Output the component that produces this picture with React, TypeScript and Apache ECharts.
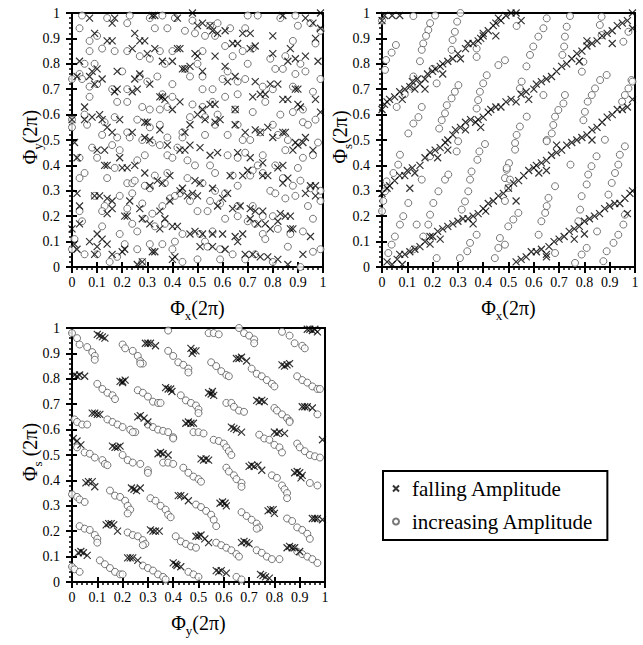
import React, { useEffect, useRef } from 'react';
import * as echarts from 'echarts';

const FONT = 'Liberation Serif, Times New Roman, serif';

const tickLabels = ['0', '0.1', '0.2', '0.3', '0.4', '0.5', '0.6', '0.7', '0.8', '0.9', '1'];
const legendNames = ['falling Amplitude', 'increasing Amplitude'];

// Panel 1: Phi_x vs Phi_y
const panel1Increasing: number[][] = [
  [0.04,0.99],[0.23,0.99],[0.36,0.99],[0.31,0.98],[0.48,0.97],[0.41,0.98],[0.70,0.99],[0.74,0.99],[0.83,0.98],[0.89,0.99],[0.95,0.96],
  [0.03,0.94],[0.22,0.96],[0.33,0.94],[0.38,0.94],[0.45,0.93],[0.49,0.92],[0.53,0.91],[0.57,0.91],[0.63,0.94],[0.69,0.94],[0.90,0.95],
  [0.14,0.98],[0.10,0.91],[0.07,0.89],[0.55,0.95],[0.88,0.89],[0.97,0.88],[0.58,0.96],[0.99,0.93],
  [0.07,0.85],[0.12,0.86],[0.17,0.85],[0.22,0.85],[0.27,0.83],[0.31,0.82],[0.35,0.85],[0.40,0.85],[0.52,0.85],[0.61,0.87],[0.68,0.85],
  [0.79,0.82],[0.85,0.83],[0.91,0.80],[0.93,0.77],[0.89,0.76],[0.81,0.78],[0.84,0.78],[0.70,0.80],[0.50,0.80],[0.64,0.83],[0.72,0.86],
  [0.45,0.78],[0.37,0.80],[0.05,0.80],[0.03,0.76],[0.09,0.80],
  [0.00,0.74],[0.04,0.74],[0.07,0.71],[0.10,0.72],[0.16,0.70],[0.20,0.77],[0.22,0.70],[0.27,0.75],[0.30,0.73],[0.34,0.75],[0.40,0.72],
  [0.47,0.75],[0.52,0.75],[0.52,0.70],[0.56,0.70],[0.62,0.77],[0.66,0.68],[0.69,0.74],[0.76,0.71],[0.80,0.70],[0.88,0.71],[0.96,0.69],
  [0.99,0.74],[0.60,0.74],[0.66,0.73],
  [0.07,0.67],[0.05,0.60],[0.18,0.65],[0.22,0.65],[0.28,0.63],[0.31,0.62],[0.35,0.62],[0.36,0.68],[0.38,0.63],[0.40,0.67],[0.48,0.64],
  [0.52,0.63],[0.56,0.65],[0.61,0.67],[0.65,0.62],[0.72,0.61],[0.77,0.65],[0.83,0.60],[0.88,0.61],[0.92,0.62],[0.92,0.57],[0.97,0.58],
  [0.58,0.60],[0.47,0.59],[0.53,0.59],
  [0.00,0.58],[0.00,0.55],[0.06,0.56],[0.13,0.57],[0.17,0.59],[0.12,0.52],[0.22,0.53],[0.26,0.58],[0.23,0.51],[0.28,0.50],[0.31,0.55],
  [0.35,0.56],[0.44,0.53],[0.44,0.51],[0.53,0.52],[0.57,0.56],[0.62,0.52],[0.66,0.56],[0.68,0.50],[0.71,0.50],[0.75,0.53],[0.80,0.56],
  [0.82,0.52],[0.86,0.50],[0.94,0.56],[0.98,0.49],[0.18,0.51],[0.38,0.51],
  [0.08,0.47],[0.03,0.43],[0.16,0.48],[0.19,0.46],[0.26,0.42],[0.29,0.44],[0.32,0.49],[0.35,0.48],[0.38,0.44],[0.42,0.47],[0.46,0.42],
  [0.49,0.40],[0.55,0.40],[0.57,0.37],[0.62,0.44],[0.66,0.43],[0.69,0.45],[0.74,0.40],[0.76,0.44],[0.81,0.40],[0.85,0.46],[0.90,0.39],
  [0.92,0.43],[0.96,0.44],[0.72,0.38],[0.10,0.43],[0.40,0.43],
  [0.05,0.37],[0.03,0.35],[0.17,0.39],[0.14,0.35],[0.22,0.33],[0.24,0.33],[0.29,0.32],[0.33,0.36],[0.37,0.33],[0.38,0.37],[0.43,0.29],
  [0.46,0.35],[0.52,0.33],[0.57,0.30],[0.61,0.29],[0.64,0.36],[0.66,0.32],[0.71,0.36],[0.76,0.37],[0.79,0.30],[0.84,0.35],[0.81,0.29],
  [0.88,0.32],[0.91,0.34],[0.95,0.31],[0.99,0.30],[0.25,0.34],[0.31,0.31],
  [0.03,0.22],[0.09,0.28],[0.13,0.24],[0.19,0.28],[0.24,0.29],[0.22,0.23],[0.28,0.25],[0.32,0.21],[0.39,0.27],[0.41,0.28],[0.47,0.26],
  [0.50,0.22],[0.54,0.22],[0.55,0.26],[0.59,0.25],[0.66,0.24],[0.72,0.24],[0.76,0.20],[0.80,0.20],[0.85,0.27],[0.89,0.28],[0.94,0.24],
  [0.99,0.26],[0.12,0.22],[0.36,0.24],
  [0.04,0.18],[0.01,0.11],[0.12,0.16],[0.24,0.17],[0.26,0.14],[0.29,0.19],[0.33,0.16],[0.37,0.17],[0.44,0.13],[0.51,0.13],[0.56,0.14],
  [0.61,0.19],[0.66,0.20],[0.70,0.18],[0.73,0.17],[0.76,0.13],[0.82,0.15],[0.87,0.13],[0.92,0.14],[0.96,0.19],[0.19,0.13],[0.41,0.10],
  [0.53,0.10],
  [0.00,0.07],[0.05,0.05],[0.10,0.05],[0.15,0.02],[0.18,0.04],[0.21,0.09],[0.28,0.02],[0.31,0.09],[0.36,0.09],[0.40,0.07],[0.44,0.02],
  [0.50,0.03],[0.54,0.08],[0.59,0.07],[0.64,0.05],[0.69,0.03],[0.73,0.05],[0.77,0.11],[0.80,0.02],[0.86,0.08],[0.91,0.00],[0.96,0.06],
  [0.99,0.07],[0.59,0.03],[0.26,0.07],
];

const panel1Falling: number[][] = [
  [0.07,0.98],[0.32,0.99],[0.33,0.99],[0.48,1.00],[0.84,0.99],[0.93,0.98],[0.99,1.00],[0.09,0.92],[0.16,0.96],[0.17,0.98],[0.25,0.92],
  [0.42,0.98],[0.50,0.95],[0.52,0.96],[0.55,0.95],[0.56,0.93],[0.58,0.92],[0.61,0.93],[0.68,0.92],[0.71,0.92],[0.80,0.91],[0.96,0.96],
  [0.99,0.94],[0.97,0.90],
  [0.14,0.89],[0.16,0.89],[0.24,0.86],[0.27,0.89],[0.29,0.89],[0.30,0.84],[0.33,0.86],[0.40,0.81],[0.42,0.86],[0.43,0.86],[0.49,0.84],
  [0.50,0.83],[0.57,0.83],[0.61,0.79],[0.64,0.88],[0.66,0.88],[0.71,0.86],[0.73,0.87],[0.80,0.84],[0.86,0.81],[0.87,0.86],[0.89,0.82],
  [0.93,0.83],[0.98,0.81],[0.36,0.81],[0.03,0.81],[0.45,0.78],[0.47,0.79],
  [0.02,0.75],[0.08,0.77],[0.10,0.78],[0.18,0.77],[0.25,0.74],[0.27,0.76],[0.31,0.72],[0.52,0.77],[0.62,0.73],[0.65,0.75],[0.73,0.73],
  [0.79,0.72],[0.82,0.72],[0.89,0.70],[0.90,0.70],[0.07,0.75],[0.18,0.70],[0.26,0.70],[0.44,0.78],
  [0.09,0.72],[0.12,0.74],[0.35,0.67],[0.36,0.67],[0.37,0.66],[0.43,0.65],[0.50,0.60],[0.52,0.62],[0.55,0.64],[0.57,0.64],[0.65,0.62],
  [0.72,0.67],[0.75,0.68],[0.77,0.68],[0.84,0.66],[0.86,0.66],[0.90,0.64],[0.91,0.63],[0.99,0.61],[0.05,0.63],[0.97,0.66],[0.40,0.62],
  [0.17,0.69],[0.24,0.69],
  [0.00,0.58],[0.05,0.58],[0.08,0.59],[0.11,0.60],[0.12,0.58],[0.14,0.55],[0.19,0.58],[0.24,0.53],[0.29,0.57],[0.30,0.57],[0.35,0.54],
  [0.47,0.56],[0.53,0.58],[0.57,0.57],[0.59,0.58],[0.65,0.56],[0.69,0.53],[0.73,0.54],[0.75,0.53],[0.78,0.55],[0.80,0.51],[0.84,0.53],
  [0.85,0.53],[0.93,0.51],[0.45,0.53],[0.16,0.53],
  [0.01,0.49],[0.02,0.43],[0.10,0.46],[0.13,0.46],[0.13,0.40],[0.14,0.40],[0.19,0.43],[0.25,0.40],[0.29,0.51],[0.31,0.50],[0.38,0.48],
  [0.43,0.46],[0.45,0.46],[0.47,0.48],[0.51,0.47],[0.55,0.44],[0.58,0.45],[0.66,0.45],[0.71,0.43],[0.76,0.41],[0.82,0.39],[0.84,0.40],
  [0.88,0.46],[0.89,0.49],[0.90,0.48],[0.92,0.49],[0.96,0.46],[0.20,0.39],[0.22,0.39],
  [0.02,0.29],[0.29,0.37],[0.31,0.32],[0.34,0.34],[0.36,0.33],[0.39,0.36],[0.43,0.30],[0.44,0.31],[0.49,0.34],[0.51,0.33],[0.56,0.31],
  [0.63,0.36],[0.68,0.36],[0.70,0.38],[0.76,0.36],[0.78,0.36],[0.84,0.33],[0.86,0.35],[0.93,0.29],[0.95,0.32],[0.97,0.32],[0.48,0.29],
  [0.50,0.28],[0.62,0.29],
  [0.03,0.24],[0.09,0.28],[0.11,0.28],[0.14,0.27],[0.16,0.26],[0.23,0.26],[0.21,0.20],[0.22,0.20],[0.27,0.23],[0.39,0.26],[0.46,0.28],
  [0.60,0.27],[0.58,0.24],[0.64,0.23],[0.67,0.24],[0.71,0.23],[0.73,0.22],[0.76,0.22],[0.83,0.21],[0.85,0.20],[0.87,0.20],[0.97,0.28],
  [0.14,0.21],[0.16,0.23],[0.35,0.22],[0.82,0.18],
  [0.00,0.15],[0.03,0.17],[0.10,0.13],[0.12,0.11],[0.14,0.09],[0.28,0.19],[0.31,0.17],[0.35,0.15],[0.37,0.19],[0.40,0.16],[0.42,0.16],
  [0.47,0.13],[0.49,0.14],[0.52,0.13],[0.56,0.13],[0.60,0.13],[0.65,0.12],[0.68,0.13],[0.71,0.19],[0.74,0.17],[0.77,0.17],[0.79,0.15],
  [0.87,0.15],[0.88,0.15],[0.95,0.12],[0.01,0.09],[0.07,0.10],
  [0.02,0.07],[0.09,0.05],[0.10,0.08],[0.16,0.05],[0.20,0.06],[0.21,0.07],[0.26,0.01],[0.28,0.02],[0.32,0.06],[0.33,0.06],[0.40,0.03],
  [0.41,0.04],[0.51,0.08],[0.56,0.08],[0.61,0.07],[0.66,0.10],[0.69,0.05],[0.72,0.05],[0.75,0.04],[0.78,0.04],[0.82,0.03],[0.86,0.01],
  [0.92,0.05],
];

// Panel 2: Phi_x vs Phi_s
const panel2Increasing: number[][] = [
  [0.0,0.97],[0.21,0.99],
  [0.124,0.988],[0.19,0.96],[0.183,0.933],[0.174,0.91],[0.163,0.88],[0.157,0.855],[0.15,0.81],[0.055,0.874],[0.038,0.844],[0.016,0.815],
  [0.012,0.776],[0.31,1.0],[0.297,0.966],[0.288,0.926],[0.279,0.894],[0.275,0.855],[0.2,0.78],[0.216,0.723],[0.124,0.75],[0.117,0.71],
  [0.09,0.68],[0.058,0.63],[0.157,0.63],[0.144,0.59],[0.124,0.565],[0.104,0.526],[0.302,0.716],[0.288,0.69],[0.275,0.664],[0.256,0.637],
  [0.249,0.605],[0.236,0.578],[0.226,0.545],[0.374,0.86],[0.374,0.827],[0.414,0.755],[0.40,0.723],[0.387,0.69],[0.38,0.657],[0.374,0.624],
  [0.46,0.795],
  [0.651,0.979],[0.743,0.988],[0.868,0.985],[0.532,0.949],[0.638,0.94],[0.618,0.907],[0.598,0.868],[0.585,0.835],[0.571,0.79],[0.552,0.73],
  [0.545,0.703],[0.73,0.946],[0.723,0.907],[0.72,0.868],[0.713,0.835],[0.861,0.953],[0.868,0.913],[0.954,0.887],[0.974,0.926],[0.486,0.814],
  [0.888,0.756],[0.862,0.736],[0.842,0.703],[0.829,0.677],[0.813,0.651],[0.802,0.611],[0.796,0.578],[0.986,0.736],[0.974,0.703],[0.96,0.677],
  [0.949,0.651],[0.723,0.677],[0.717,0.644],[0.697,0.618],[0.684,0.592],[0.677,0.559],[0.671,0.526],[0.572,0.592],[0.545,0.553],[0.532,0.52],
  [0.638,0.677],[0.796,0.808],[0.79,0.769],[0.651,0.50],
  [0.407,0.484],[0.385,0.455],[0.377,0.422],[0.354,0.376],[0.348,0.344],[0.341,0.298],[0.328,0.258],[0.315,0.226],[0.374,0.127],[0.348,0.095],
  [0.337,0.062],[0.308,0.035],[0.493,0.383],[0.486,0.35],[0.223,0.298],[0.203,0.252],[0.19,0.206],[0.183,0.167],[0.163,0.12],[0.216,0.035],
  [0.071,0.442],[0.064,0.403],[0.045,0.37],[0.018,0.337],[0.012,0.298],[0.249,0.344],[0.262,0.364],[0.104,0.252],[0.084,0.2],[0.071,0.167],
  [0.051,0.12],[0.038,0.088],[0.025,0.055],[0.157,0.344],[0.446,0.035],[0.46,0.075],[0.466,0.114],[0.301,0.495],[0.19,0.436],[0.295,0.455],
  [0.137,0.167],[0.124,0.069],[0.0,0.22],[0.005,0.26],
  [0.526,0.488],[0.526,0.462],[0.651,0.495],[0.502,0.409],[0.493,0.39],[0.506,0.344],[0.499,0.311],[0.486,0.26],[0.684,0.318],[0.658,0.272],
  [0.651,0.24],[0.645,0.213],[0.63,0.18],[0.619,0.127],[0.745,0.403],[0.848,0.436],[0.828,0.397],[0.815,0.364],[0.809,0.325],[0.789,0.279],
  [0.783,0.226],[0.776,0.18],[0.809,0.075],[0.789,0.049],[0.881,0.501],[0.96,0.475],[0.94,0.442],[0.934,0.403],[0.921,0.37],[0.908,0.331],
  [0.895,0.285],[0.96,0.206],[0.954,0.167],[0.934,0.127],[0.915,0.095],[0.888,0.062],[0.875,0.023],[0.539,0.213],[0.519,0.187],[0.499,0.16],
  [0.486,0.088],[0.684,0.055],[0.763,0.016],[0.85,0.14],[0.99,0.73],
];

const panel2Falling: number[][] = [
  [0.0,0.97],[0.01,0.99],[0.04,0.99],[0.07,0.99],
  [0.0,0.62],[0.01,0.64],[0.02,0.65],[0.03,0.66],[0.05,0.67],[0.07,0.69],[0.09,0.70],[0.11,0.71],[0.12,0.73],[0.14,0.74],[0.15,0.72],
  [0.17,0.74],[0.18,0.76],[0.20,0.77],[0.21,0.78],[0.23,0.79],[0.24,0.80],[0.26,0.81],[0.28,0.82],[0.30,0.84],[0.31,0.82],[0.33,0.86],
  [0.34,0.88],[0.36,0.88],[0.38,0.89],[0.39,0.90],[0.40,0.92],[0.42,0.93],[0.44,0.95],[0.45,0.96],[0.46,0.98],[0.47,0.97],[0.49,0.99],
  [0.51,1.0],[0.53,1.0],[0.55,0.97],[0.08,0.66],[0.13,0.70],[0.17,0.70],[0.24,0.76],[0.40,0.91],[0.45,0.91],
  [0.0,0.29],[0.02,0.31],[0.03,0.32],[0.05,0.34],[0.07,0.36],[0.09,0.36],[0.10,0.38],[0.12,0.39],[0.13,0.37],[0.15,0.40],[0.17,0.43],
  [0.19,0.45],[0.21,0.46],[0.23,0.47],[0.25,0.49],[0.26,0.50],[0.28,0.52],[0.29,0.54],[0.31,0.55],[0.33,0.57],[0.35,0.58],[0.37,0.57],
  [0.38,0.58],[0.40,0.59],[0.42,0.61],[0.43,0.62],[0.45,0.63],[0.47,0.63],[0.49,0.65],[0.51,0.66],[0.53,0.65],[0.55,0.68],[0.57,0.69],
  [0.60,0.70],[0.61,0.72],[0.63,0.73],[0.65,0.74],[0.67,0.75],[0.69,0.77],[0.71,0.79],[0.73,0.80],[0.75,0.82],[0.77,0.84],[0.79,0.85],
  [0.81,0.87],[0.83,0.88],[0.85,0.89],[0.87,0.91],[0.89,0.92],[0.91,0.93],[0.93,0.95],[0.95,0.96],[0.97,0.97],[0.99,1.0],[0.22,0.43],
  [0.26,0.46],[0.33,0.54],[0.39,0.55],[0.58,0.66],[0.78,0.81],[0.91,0.88],[0.99,0.94],[0.81,0.89],[0.11,0.31],
  [0.02,0.02],[0.04,0.01],[0.06,0.03],[0.08,0.01],[0.07,0.05],[0.09,0.05],[0.11,0.06],[0.13,0.07],[0.15,0.08],[0.17,0.10],[0.19,0.12],
  [0.20,0.12],[0.22,0.14],[0.24,0.15],[0.26,0.16],[0.28,0.17],[0.30,0.18],[0.32,0.19],[0.34,0.19],[0.36,0.20],[0.38,0.21],[0.40,0.23],
  [0.42,0.25],[0.44,0.26],[0.46,0.28],[0.48,0.29],[0.50,0.31],[0.52,0.33],[0.54,0.34],[0.56,0.36],[0.58,0.38],[0.60,0.39],[0.61,0.40],
  [0.63,0.41],[0.65,0.42],[0.67,0.44],[0.69,0.45],[0.71,0.46],[0.73,0.48],[0.75,0.49],[0.77,0.50],[0.79,0.51],[0.81,0.52],[0.83,0.54],
  [0.85,0.55],[0.87,0.57],[0.89,0.59],[0.91,0.60],[0.93,0.62],[0.95,0.62],[0.97,0.63],[0.99,0.66],[0.19,0.09],[0.23,0.11],[0.36,0.17],
  [0.41,0.22],[0.53,0.26],[0.62,0.37],[0.65,0.38],[0.83,0.50],[0.69,0.48],
  [0.53,0.02],[0.55,0.03],[0.57,0.04],[0.59,0.06],[0.61,0.06],[0.63,0.07],[0.65,0.05],[0.66,0.08],[0.68,0.10],[0.70,0.11],[0.72,0.12],
  [0.74,0.14],[0.76,0.15],[0.78,0.16],[0.80,0.18],[0.82,0.19],[0.84,0.20],[0.86,0.21],[0.88,0.23],[0.90,0.24],[0.92,0.25],[0.94,0.25],
  [0.96,0.27],[0.98,0.29],[0.99,0.30],[0.65,0.04],[0.76,0.11],[0.80,0.13],[0.97,0.21],
];

// Panel 3: Phi_y vs Phi_s
const panel3Increasing: number[][] = [
  [0.0,0.98],[0.02,0.96],[0.03,0.935],[0.06,0.925],[0.08,0.905],[0.09,0.89],[0.09,0.875],
  [0.38,0.99],[0.54,0.98],[0.56,0.98],[0.58,0.975],[0.66,1.0],[0.68,0.98],[0.70,0.97],[0.72,0.955],[0.72,0.94],
  [0.83,0.985],[0.86,0.97],[0.88,0.94],[0.91,0.93],[0.92,0.92],
  [0.20,0.935],[0.21,0.92],[0.24,0.91],[0.26,0.89],[0.27,0.87],[0.28,0.86],[0.27,0.86],
  [0.38,0.91],[0.40,0.89],[0.42,0.865],[0.44,0.855],[0.46,0.84],[0.46,0.825],
  [0.55,0.865],[0.57,0.85],[0.59,0.83],[0.61,0.815],[0.62,0.81],
  [0.71,0.84],[0.73,0.82],[0.75,0.81],[0.77,0.795],[0.79,0.78],[0.80,0.77],
  [0.89,0.81],[0.91,0.795],[0.93,0.785],[0.95,0.77],[0.97,0.76],[0.98,0.76],
  [0.10,0.78],[0.12,0.76],[0.14,0.745],[0.16,0.735],[0.17,0.72],
  [0.26,0.755],[0.28,0.745],[0.30,0.73],[0.32,0.71],[0.34,0.705],[0.35,0.705],
  [0.43,0.735],[0.45,0.715],[0.47,0.705],[0.49,0.695],[0.50,0.68],[0.50,0.665],
  [0.61,0.705],[0.63,0.705],[0.64,0.69],[0.66,0.675],[0.68,0.67],
  [0.80,0.685],[0.81,0.675],[0.83,0.66],[0.85,0.645],[0.86,0.635],[0.86,0.63],
  [0.97,0.66],
  [0.01,0.64],[0.02,0.63],[0.04,0.62],[0.06,0.62],
  [0.14,0.64],[0.16,0.63],[0.18,0.62],[0.20,0.61],[0.23,0.60],[0.25,0.59],[0.24,0.59],
  [0.30,0.62],[0.32,0.61],[0.34,0.60],[0.36,0.595],[0.38,0.59],[0.40,0.57],[0.40,0.565],
  [0.48,0.59],[0.50,0.59],[0.52,0.585],
  [0.56,0.56],[0.58,0.555],[0.60,0.545],[0.61,0.53],[0.62,0.515],[0.63,0.50],
  [0.74,0.58],[0.76,0.565],[0.78,0.56],[0.80,0.54],[0.82,0.53],[0.83,0.51],
  [0.89,0.545],[0.90,0.53],[0.92,0.515],[0.94,0.50],[0.96,0.495],[0.98,0.49],
  [0.02,0.53],[0.05,0.51],[0.07,0.505],[0.09,0.49],[0.12,0.48],[0.13,0.465],[0.14,0.46],
  [0.20,0.50],[0.22,0.48],[0.24,0.47],[0.27,0.465],[0.30,0.44],[0.30,0.43],
  [0.36,0.47],[0.38,0.47],[0.40,0.465],
  [0.44,0.45],[0.46,0.43],[0.48,0.415],[0.50,0.405],[0.51,0.395],
  [0.61,0.45],[0.62,0.435],[0.64,0.42],[0.65,0.405],[0.67,0.39],[0.67,0.375],
  [0.79,0.42],[0.81,0.41],[0.83,0.38],[0.84,0.365],[0.85,0.35],[0.85,0.33],
  [0.94,0.39],[0.97,0.38],
  [0.0,0.345],[0.02,0.335],[0.03,0.325],[0.05,0.315],
  [0.15,0.36],[0.17,0.34],[0.19,0.335],[0.21,0.32],[0.22,0.30],[0.23,0.285],[0.22,0.27],
  [0.31,0.33],[0.33,0.32],[0.35,0.30],[0.37,0.285],[0.38,0.265],[0.39,0.255],
  [0.49,0.305],[0.51,0.295],[0.53,0.28],[0.55,0.265],[0.56,0.245],[0.57,0.22],
  [0.67,0.275],[0.69,0.26],[0.71,0.245],[0.73,0.23],[0.74,0.215],[0.73,0.21],
  [0.85,0.25],[0.87,0.24],[0.89,0.215],[0.91,0.205],[0.93,0.19],[0.94,0.17],
  [0.03,0.22],[0.05,0.21],[0.07,0.205],[0.09,0.185],[0.10,0.17],[0.10,0.155],
  [0.22,0.195],[0.24,0.185],[0.26,0.18],[0.28,0.165],[0.29,0.15],[0.28,0.145],
  [0.41,0.18],[0.43,0.16],[0.45,0.15],[0.47,0.14],[0.49,0.135],
  [0.57,0.155],[0.59,0.145],[0.61,0.135],[0.63,0.125],[0.65,0.11],[0.66,0.10],
  [0.73,0.125],[0.75,0.115],[0.77,0.10],[0.79,0.09],[0.82,0.09],
  [0.89,0.12],[0.91,0.11],[0.93,0.10],[0.95,0.09],[0.97,0.075],
  [0.0,0.06],[0.01,0.05],[0.03,0.04],
  [0.11,0.085],[0.13,0.07],[0.15,0.055],[0.17,0.04],[0.19,0.03],[0.20,0.03],
  [0.28,0.065],[0.30,0.055],[0.32,0.045],[0.34,0.03],[0.36,0.02],[0.37,0.01],
  [0.46,0.04],[0.48,0.03],[0.50,0.02],
  [0.65,0.02],[0.67,0.01],
];

const panel3Falling: number[][] = [
  [0.10,0.975],[0.11,0.97],[0.12,0.965],[0.13,0.96],
  [0.29,0.94],[0.30,0.94],[0.31,0.94],[0.33,0.93],
  [0.47,0.92],[0.48,0.91],[0.49,0.91],[0.475,0.90],
  [0.65,0.88],[0.66,0.88],[0.67,0.885],[0.69,0.87],
  [0.83,0.855],[0.84,0.85],[0.85,0.855],[0.86,0.86],
  [0.93,0.995],[0.94,0.995],[0.95,0.99],[0.96,0.995],[0.97,0.985],
  [0.01,0.815],[0.02,0.81],[0.03,0.815],[0.05,0.81],
  [0.19,0.79],[0.20,0.79],[0.21,0.795],[0.20,0.785],
  [0.37,0.765],[0.38,0.76],[0.39,0.76],[0.395,0.75],
  [0.54,0.745],[0.55,0.74],[0.56,0.735],[0.555,0.75],
  [0.73,0.715],[0.74,0.71],[0.75,0.715],[0.76,0.71],
  [0.91,0.69],[0.92,0.69],[0.93,0.69],[0.95,0.685],
  [0.08,0.665],[0.09,0.665],[0.10,0.66],[0.11,0.66],
  [0.26,0.65],[0.27,0.655],[0.285,0.645],[0.30,0.63],
  [0.45,0.625],[0.46,0.63],[0.47,0.625],[0.48,0.625],
  [0.63,0.61],[0.64,0.605],[0.65,0.60],[0.67,0.59],
  [0.80,0.59],[0.81,0.585],[0.82,0.59],[0.84,0.585],
  [0.99,0.56],[0.005,0.565],[0.02,0.555],[0.035,0.54],
  [0.16,0.535],[0.17,0.53],[0.18,0.53],[0.19,0.535],
  [0.34,0.505],[0.35,0.51],[0.36,0.505],[0.38,0.50],
  [0.51,0.485],[0.52,0.48],[0.53,0.485],[0.54,0.48],
  [0.70,0.455],[0.71,0.46],[0.72,0.455],[0.735,0.46],[0.75,0.44],
  [0.88,0.43],[0.89,0.435],[0.90,0.43],[0.91,0.42],[0.905,0.41],
  [0.055,0.39],[0.065,0.395],[0.08,0.395],[0.09,0.375],
  [0.235,0.37],[0.245,0.365],[0.255,0.36],[0.27,0.37],
  [0.42,0.34],[0.43,0.34],[0.445,0.335],[0.46,0.32],
  [0.585,0.31],[0.595,0.315],[0.605,0.31],[0.61,0.30],
  [0.775,0.28],[0.785,0.285],[0.795,0.285],[0.80,0.27],
  [0.95,0.25],[0.96,0.25],[0.97,0.25],[0.99,0.245],
  [0.135,0.225],[0.145,0.23],[0.155,0.23],[0.165,0.225],[0.18,0.20],
  [0.31,0.205],[0.32,0.20],[0.33,0.20],[0.345,0.20],
  [0.49,0.18],[0.50,0.18],[0.51,0.185],[0.525,0.17],[0.54,0.155],
  [0.67,0.155],[0.68,0.16],[0.69,0.155],[0.70,0.15],
  [0.85,0.135],[0.86,0.14],[0.87,0.135],[0.88,0.135],[0.90,0.12],
  [0.025,0.115],[0.035,0.12],[0.045,0.115],[0.06,0.105],
  [0.22,0.095],[0.23,0.095],[0.24,0.095],[0.26,0.085],
  [0.40,0.075],[0.41,0.07],[0.415,0.065],[0.43,0.06],
  [0.57,0.045],[0.58,0.04],[0.59,0.045],[0.61,0.035],
  [0.745,0.03],[0.755,0.025],[0.765,0.02],[0.78,0.015],
];

const panels = [
  { falling: panel1Falling, increasing: panel1Increasing, xSub: 'x', ySub: 'y', ySpace: '' },
  { falling: panel2Falling, increasing: panel2Increasing, xSub: 'x', ySub: 's', ySpace: '' },
  { falling: panel3Falling, increasing: panel3Increasing, xSub: 'y', ySub: 's', ySpace: ' ' },
];

const grids = [
  { left: 72, top: 13, width: 251, height: 254 },
  { left: 382, top: 13, width: 253, height: 254 },
  { left: 72, top: 328, width: 253, height: 254 },
];

const CROSS = 'path://M0,0L10,10M10,0L0,10';

function measure(text: string, size: number): number {
  const c = document.createElement('canvas');
  const ctx = c.getContext('2d');
  if (!ctx) return text.length * size * 0.5;
  ctx.font = `${size}px ${FONT}`;
  return ctx.measureText(text).width;
}

function axisTitle(cx: number, cy: number, sub: string, tail: string, vertical: boolean) {
  const big = 20;
  const small = 13;
  const w1 = measure('\u03A6', big);
  const w2 = measure(sub, small);
  const w3 = measure(tail, big);
  const x0 = -(w1 + w2 + w3) / 2;
  const base = { fill: '#000', align: 'left', verticalAlign: 'middle', textAlign: 'left', textVerticalAlign: 'middle' };
  return {
    type: 'group',
    x: cx,
    y: cy,
    rotation: vertical ? Math.PI / 2 : 0,
    children: [
      { type: 'text', x: x0, y: 0, style: { ...base, text: '\u03A6', fontSize: big, fontFamily: FONT } },
      { type: 'text', x: x0 + w1, y: 7, style: { ...base, text: sub, fontSize: small, fontFamily: FONT } },
      { type: 'text', x: x0 + w1 + w2, y: 0, style: { ...base, text: tail, fontSize: big, fontFamily: FONT } },
    ],
  };
}

const labelFmt = (v: number) => {
  const i = Math.round(v * 10);
  return tickLabels[i] ?? '';
};

function makeAxis(dim: 'x' | 'y', gridIndex: number, overlay: boolean) {
  return {
    type: 'value',
    gridIndex,
    min: 0,
    max: 1,
    interval: 0.1,
    position: dim === 'x' ? 'bottom' : 'left',
    axisLine: { show: !overlay, onZero: false, lineStyle: { color: '#000', width: 2 } },
    axisTick: { show: true, inside: overlay, length: overlay ? 5 : 6, lineStyle: { color: '#000', width: 2 } },
    minorTick: { show: !overlay, splitNumber: 5, length: 3, lineStyle: { color: '#000', width: 1.5 } },
    axisLabel: {
      show: !overlay,
      margin: dim === 'x' ? 8 : 12,
      fontFamily: FONT,
      fontSize: 14,
      color: '#000',
      formatter: labelFmt,
    },
    splitLine: { show: false },
    minorSplitLine: { show: false },
  };
}

export default function App() {
  const ref = useRef<HTMLDivElement>(null);
  useEffect(() => {
    document.body.style.margin = '0';
    if (!ref.current) return;
    const chart = echarts.init(ref.current, undefined, { renderer: 'svg' });

    const xAxes: any[] = [];
    const yAxes: any[] = [];
    for (let i = 0; i < 3; i++) { xAxes.push(makeAxis('x', i, false)); yAxes.push(makeAxis('y', i, false)); }
    for (let i = 0; i < 3; i++) { xAxes.push(makeAxis('x', i, true)); yAxes.push(makeAxis('y', i, true)); }

    const series: any[] = [];
    panels.forEach((p, i) => {
      series.push({
        type: 'scatter', name: legendNames[1], xAxisIndex: i, yAxisIndex: i, data: p.increasing,
        symbol: 'circle', symbolSize: 7, clip: false, z: 2,
        itemStyle: { color: '#fff', borderColor: '#555', borderWidth: 1 },
      });
      series.push({
        type: 'scatter', name: legendNames[0], xAxisIndex: i, yAxisIndex: i, data: p.falling,
        symbol: CROSS, symbolSize: 7, clip: false, z: 3,
        itemStyle: { color: 'rgba(0,0,0,0)', borderColor: '#000', borderWidth: 1.2 },
      });
    });

    const graphics: any[] = [];
    grids.forEach((g, i) => {
      const p = panels[i];
      const cx = g.left + g.width / 2;
      const cy = g.top + g.height / 2;
      graphics.push(axisTitle(cx, g.top + g.height + 41, p.xSub, '(2\u03C0)', false));
      graphics.push(axisTitle(g.left - 42, cy - 3, p.ySub, p.ySpace + '(2\u03C0)', true));
    });

    chart.setOption({
      animation: false,
      backgroundColor: '#fff',
      textStyle: { fontFamily: FONT },
      grid: grids.map((g) => ({ ...g, show: true, borderColor: '#000', borderWidth: 2, backgroundColor: 'transparent' })),
      xAxis: xAxes,
      yAxis: yAxes,
      series,
      legend: {
        left: 383,
        top: 471,
        orient: 'vertical',
        padding: [7, 14, 8, 9],
        itemGap: 12,
        itemWidth: 6,
        itemHeight: 6,
        borderColor: '#000',
        borderWidth: 2,
        selectedMode: false,
        data: legendNames,
        textStyle: { fontFamily: FONT, fontSize: 21, color: '#000', padding: [0, 0, 0, 8] },
      },
      graphic: graphics,
    });
    return () => chart.dispose();
  }, []);
  return <div ref={ref} style={{ width: 643, height: 645 }} />;
}
